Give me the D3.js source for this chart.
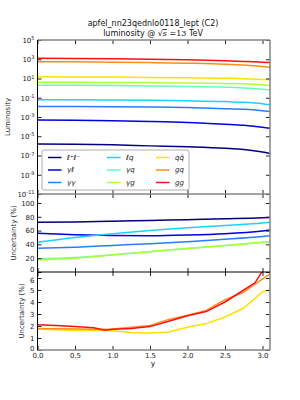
<!DOCTYPE html>
<html>
<head>
<meta charset="utf-8">
<script src="https://cdn.jsdelivr.net/npm/d3@7"></script>
<style>
  body { margin: 0; background: #fff; }
  svg text { font-family: "DejaVu Sans", sans-serif; }
</style>
</head>
<body>
<svg id="chart" width="300" height="400"></svg>
<script>
// ---- data ----
const names = ["ℓ⁺ℓ⁻", "γℓ", "γγ", "ℓq", "γq", "γg", "qq̄", "gq", "gg"];
const colors = ["#00007f", "#0000e0", "#2a7cff", "#1ad2ff", "#66ffb0", "#adff3a", "#ffe000", "#ff8c1a", "#ff1010"];

const xLumi = [0, 0.5, 1.0, 1.5, 2.0, 2.5, 2.75, 3.0, 3.1];
const lumi_ll = [1.6e-6, 1.5e-6, 1.3e-6, 1.0e-6, 7.9e-7, 5.6e-7, 4.2e-7, 2.3e-7, 1.6e-7];
const lumi_gl = [4.9e-4, 4.7e-4, 4.2e-4, 3.5e-4, 2.7e-4, 1.75e-4, 1.35e-4, 8.5e-5, 6.6e-5];
const lumi_gg_ph = [0.0125, 0.0123, 0.0117, 0.0108, 0.0095, 0.0074, 0.0062, 0.0045, 0.0038];
const lumi_lq = [0.062, 0.061, 0.058, 0.054, 0.048, 0.040, 0.034, 0.024, 0.019];
const lumi_gq_ph = [2.0, 1.95, 1.85, 1.7, 1.5, 1.25, 1.05, 0.75, 0.63];
const lumi_gglu_ph = [4.2, 4.1, 3.95, 3.75, 3.5, 3.1, 2.8, 2.2, 1.9];
const lumi_qqbar = [15, 14.7, 14, 13, 11.8, 10.5, 9.5, 7.9, 7.2];
const lumi_gq = [560, 540, 500, 450, 390, 310, 250, 175, 150];
const lumi_gg = [1260, 1230, 1150, 1030, 880, 700, 600, 500, 450];

const xUncA = [0, 0.5, 1.0, 1.5, 2.0, 2.5, 3.0, 3.1];
const unc_ll = [72, 72.5, 73.5, 74.7, 75.8, 77, 78.5, 79];
const unc_gl = [56, 54, 53, 52.5, 53.5, 55.5, 59.5, 60.7];
const unc_gg_ph = [34.5, 36, 38.5, 41, 44, 47.5, 51.5, 52.5];
const unc_lq = [43, 50, 55.5, 60, 64, 67.5, 71, 72];
const unc_gq_ph = [19, 21, 25, 29.5, 34, 38.5, 43, 44];
const unc_gglu_ph = [17.5, 20, 24.5, 29.5, 34, 38.5, 43, 44.5];

const xUncB = [0, 0.25, 0.5, 0.75, 0.9, 1.0, 1.25, 1.5, 1.75, 2.0, 2.25, 2.5, 2.75, 2.9, 3.0, 3.1];
const unc_qqbar = [1.75, 1.68, 1.62, 1.62, 1.62, 1.6, 1.45, 1.42, 1.5, 1.9, 2.2, 2.75, 3.5, 4.3, 4.85, 5.0];
const unc_gq = [1.8, 1.78, 1.75, 1.72, 1.72, 1.75, 1.9, 2.05, 2.55, 2.9, 3.3, 4.2, 4.8, 5.5, 5.9, 6.35];
const unc_gg = [2.1, 2.05, 1.95, 1.85, 1.65, 1.72, 1.8, 1.95, 2.4, 2.85, 3.2, 4.0, 5.0, 5.6, 6.6, 7.4];

const xTicks = [0, 0.5, 1.0, 1.5, 2.0, 2.5, 3.0];
const lumiTickExp = [5, 3, 1, -1, -3, -5, -7, -9, -11];
const uncATicks = [0, 20, 40, 60, 80, 100];
const uncBTicks = [0, 1, 2, 3, 4, 5, 6];

// ---- layout ----
const svg = d3.select("#chart");
const left = 37.5, right = 270;
const pTop = { y0: 40, y1: 194 }, pMid = { y0: 194, y1: 272 }, pBot = { y0: 272, y1: 350 };

const x = d3.scaleLinear().domain([0, 3.1]).range([left, right]);
const yTop = d3.scaleLog().domain([1e-11, 1e5]).range([pTop.y1, pTop.y0]);
const yMid = d3.scaleLinear().domain([0, 113]).range([pMid.y1, pMid.y0]);
const yBot = d3.scaleLinear().domain([0, 6.5]).range([pBot.y1, pBot.y0]);

svg.append("rect").attr("width", 300).attr("height", 400).attr("fill", "#fff");

const defs = svg.append("defs");
[["cTop", pTop], ["cMid", pMid], ["cBot", pBot]].forEach(([id, p]) => {
  defs.append("clipPath").attr("id", id)
    .append("rect").attr("x", left).attr("y", p.y0).attr("width", right - left).attr("height", p.y1 - p.y0);
});

function drawLines(xs, series, yScale, clip, idx) {
  const g = svg.append("g").attr("clip-path", `url(#${clip})`);
  series.forEach((vals, i) => {
    const line = d3.line().x((d, j) => x(xs[j])).y(d => yScale(d))
      .curve(clip === "cBot" ? d3.curveLinear : d3.curveMonotoneX);
    g.append("path").datum(vals)
      .attr("d", line)
      .attr("fill", "none")
      .attr("stroke", colors[idx[i]])
      .attr("stroke-width", 1.5);
  });
}

drawLines(xLumi, [lumi_ll, lumi_gl, lumi_gg_ph, lumi_lq, lumi_gq_ph, lumi_gglu_ph, lumi_qqbar, lumi_gq, lumi_gg], yTop, "cTop", [0,1,2,3,4,5,6,7,8]);
drawLines(xUncA, [unc_ll, unc_gl, unc_gg_ph, unc_lq, unc_gq_ph, unc_gglu_ph], yMid, "cMid", [0,1,2,3,4,5]);
drawLines(xUncB, [unc_qqbar, unc_gq, unc_gg], yBot, "cBot", [6,7,8]);

// ---- axes ----
function xAxes(p, withLabels) {
  svg.append("g").attr("transform", `translate(0,${p.y0})`)
    .call(d3.axisTop(x).tickValues(xTicks).tickSize(-4).tickFormat(""))
    .call(g => g.select(".domain").remove());
  const gb = svg.append("g").attr("transform", `translate(0,${p.y1})`)
    .call(d3.axisBottom(x).tickValues(xTicks).tickSize(-4).tickPadding(3)
      .tickFormat(withLabels ? d3.format(".1f") : ""))
    .call(g => g.select(".domain").remove());
  gb.selectAll("text").attr("font-size", 7).attr("fill", "#222");
}
xAxes(pTop, false);
xAxes(pMid, false);
xAxes(pBot, true);

function yAxes(yScale, ticks, fmt) {
  const gl = svg.append("g").attr("transform", `translate(${left},0)`)
    .call(d3.axisLeft(yScale).tickValues(ticks).tickSize(-4).tickPadding(3).tickFormat(fmt))
    .call(g => g.select(".domain").remove());
  gl.selectAll("text").attr("font-size", 7).attr("fill", "#222");
  svg.append("g").attr("transform", `translate(${right},0)`)
    .call(d3.axisRight(yScale).tickValues(ticks).tickSize(-4).tickFormat(""))
    .call(g => g.select(".domain").remove());
  return gl;
}

const glTop = yAxes(yTop, lumiTickExp.map(e => Math.pow(10, e)), () => "");
glTop.selectAll(".tick").each(function(d) {
  const e = Math.round(Math.log10(d));
  const t = d3.select(this).select("text").text(null).attr("dy", "0.32em");
  t.append("tspan").text("10");
  t.append("tspan").attr("dy", "-0.55em").attr("font-size", 5).text(e < 0 ? "-" + (-e) : e);
});
const glMid = yAxes(yMid, uncATicks, d3.format("d"));
const glBot = yAxes(yBot, uncBTicks, d3.format("d"));

// labels at the panel joins sit close together, nudge them apart a little
glMid.selectAll(".tick").filter(d => d === 0).select("text").attr("dy", "-0.05em");
glBot.selectAll(".tick").filter(d => d === 6).select("text").attr("dy", "0.62em");
glBot.selectAll(".tick").filter(d => d === 0).select("text").attr("dy", "0.05em");

svg.selectAll(".tick line").attr("stroke", "#222");

// ---- spines ----
const gray = "#858585";
function hline(y, c, w) { svg.append("line").attr("x1", left).attr("x2", right).attr("y1", y).attr("y2", y).attr("stroke", c).attr("stroke-width", w); }
svg.append("line").attr("x1", right).attr("x2", right).attr("y1", pTop.y0).attr("y2", pBot.y1).attr("stroke", gray).attr("stroke-width", 1.5);
hline(pTop.y0, gray, 1.5);
hline(pTop.y1, gray, 1.5);
hline(pBot.y1, gray, 1.5);
hline(pMid.y1, "#000", 1);
svg.append("line").attr("x1", left).attr("x2", left).attr("y1", pTop.y0).attr("y2", pBot.y1).attr("stroke", "#000").attr("stroke-width", 1);

// ---- axis labels & title ----
function yLabel(txt, xp, yc) {
  svg.append("text").attr("transform", `translate(${xp},${yc}) rotate(-90)`)
    .attr("text-anchor", "middle").attr("font-size", 7).attr("fill", "#222").text(txt);
}
yLabel("Luminosity", 10, 117);
yLabel("Uncertainty (%)", 16, 233);
yLabel("Uncertainty (%)", 24, 311);

svg.append("text").attr("x", 153).attr("y", 366).attr("text-anchor", "middle")
  .attr("font-size", 7.5).attr("fill", "#222").text("y");

svg.append("text").attr("x", 153).attr("y", 26).attr("text-anchor", "middle")
  .attr("font-size", 8).attr("fill", "#111").text("apfel_nn23qednlo0118_lept (C2)");
const t2 = svg.append("text").attr("x", 153).attr("y", 36).attr("text-anchor", "middle")
  .attr("font-size", 8).attr("fill", "#111");
t2.append("tspan").text("luminosity @ ");
t2.append("tspan").attr("font-family", "DejaVu Serif").text("√");
t2.append("tspan").attr("font-family", "DejaVu Serif").attr("font-style", "italic").attr("text-decoration", "overline").text("s");
t2.append("tspan").text(" =");
t2.append("tspan").attr("font-family", "DejaVu Serif").text("13");
t2.append("tspan").text(" TeV");

// ---- legend ----
const lg = svg.append("g");
lg.append("rect").attr("x", 42).attr("y", 150).attr("width", 147).attr("height", 40)
  .attr("rx", 2).attr("fill", "#fff").attr("stroke", "#999").attr("stroke-width", 0.8);
const colX = [48, 107, 156];
const rowY = [157.5, 170, 182.5];
names.forEach((n, i) => {
  const c = Math.floor(i / 3), r = i % 3;
  lg.append("line").attr("x1", colX[c]).attr("x2", colX[c] + 13.5)
    .attr("y1", rowY[r]).attr("y2", rowY[r]).attr("stroke", colors[i]).attr("stroke-width", 1.5);
  lg.append("text").attr("x", colX[c] + 19).attr("y", rowY[r]).attr("dy", "0.35em")
    .attr("font-family", "DejaVu Serif").attr("font-style", "italic")
    .attr("font-size", 7).attr("fill", "#111").text(n);
});
</script>
</body>
</html>
